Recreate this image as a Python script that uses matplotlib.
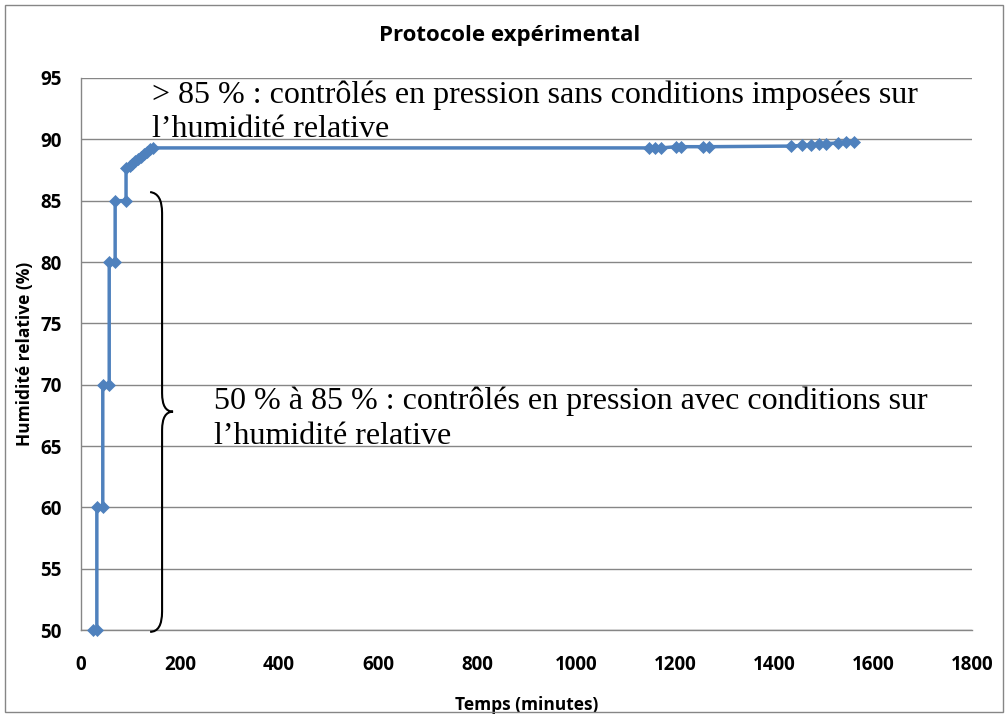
import matplotlib
matplotlib.use("Agg")
import matplotlib.pyplot as plt
from matplotlib.path import Path
from matplotlib.patches import PathPatch, Rectangle

# ---- data ----
temps = [24, 32, 32, 44, 44, 57, 57, 69, 69, 91, 91,
         98, 104, 110, 116, 122, 128, 134, 140, 146,
         1147, 1160, 1171, 1203, 1212, 1257, 1269,
         1434, 1456, 1474, 1491, 1505, 1530, 1545, 1561]
humidite = [50, 50, 60, 60, 70, 70, 80, 80, 85, 85, 87.7,
            87.8, 88.0, 88.2, 88.4, 88.6, 88.8, 89.0, 89.2, 89.3,
            89.3, 89.3, 89.3, 89.4, 89.4, 89.4, 89.4,
            89.45, 89.5, 89.55, 89.6, 89.65, 89.7, 89.75, 89.8]
xticks = [0, 200, 400, 600, 800, 1000, 1200, 1400, 1600, 1800]
yticks = [50, 55, 60, 65, 70, 75, 80, 85, 90, 95]

title = "Protocole expérimental"
xlabel = "Temps (minutes)"
ylabel = "Humidité relative (%)"
note_haut = ["> 85 % : contrôlés en pression sans conditions imposées sur",
             "l\u2019humidité relative"]
note_bas = ["50 % à 85 % : contrôlés en pression avec conditions sur",
            "l\u2019humidité relative"]

BLUE = "#4F81BD"
GRID = "#868686"
SANS = ["Open Sans", "DejaVu Sans"]
SERIF = ["Liberation Serif", "DejaVu Serif"]

fig = plt.figure(figsize=(10.06, 7.14), dpi=100)
ax = fig.add_axes([81 / 1006, 1 - 630 / 714, (972 - 81) / 1006, (630 - 78) / 714])

ax.plot(temps, humidite, color=BLUE, lw=2.5, marker="D", ms=6.5,
        mfc=BLUE, mec=BLUE, mew=0.5, clip_on=False, zorder=5)

ax.set_xlim(0, 1800)
ax.set_ylim(50, 95)
ax.set_xticks(xticks)
ax.set_yticks(yticks)
ax.set_xticklabels([str(v) for v in xticks], fontsize=13.5, fontweight="bold", family=SANS)
ax.set_yticklabels([str(v) for v in yticks], fontsize=13.5, fontweight="bold", family=SANS)
ax.tick_params(axis="x", length=0, pad=18)
ax.tick_params(axis="y", length=0, pad=14)
ax.yaxis.grid(True, color=GRID, lw=1.0)
ax.set_axisbelow(True)
for s in ["top", "right"]:
    ax.spines[s].set_visible(False)
ax.spines["left"].set_color(GRID)
ax.spines["bottom"].set_color(GRID)
ax.spines["left"].set_linewidth(1.0)
ax.spines["bottom"].set_linewidth(1.0)

ax.set_xlabel(xlabel, fontsize=12.5, fontweight="bold", family=SANS, labelpad=15)
ax.set_ylabel(ylabel, fontsize=12.5, fontweight="bold", family=SANS, labelpad=4)
fig.text(0.507, 1 - 35 / 714, title, ha="center", va="center",
         fontsize=16, fontweight="bold", family=SANS)

# annotations
FS = 23
ax.text(143.6, 92.95, note_haut[0], fontsize=FS, family=SERIF, va="baseline", ha="left")
ax.text(143.6, 90.18, note_haut[1], fontsize=FS, family=SERIF, va="baseline", ha="left")
ax.text(268, 68.0, note_bas[0], fontsize=FS, family=SERIF, va="baseline", ha="left")
ax.text(268, 65.16, note_bas[1], fontsize=FS, family=SERIF, va="baseline", ha="left")

# curly brace
verts = [(139.6, 85.7), (163.8, 85.6), (163.8, 84.0),
         (163.8, 69.3),
         (163.8, 67.8), (186.0, 67.8),
         (163.8, 67.8), (163.8, 66.3),
         (163.8, 51.5),
         (163.8, 49.85), (139.6, 49.85)]
codes = [Path.MOVETO, Path.CURVE3, Path.CURVE3,
         Path.LINETO,
         Path.CURVE3, Path.CURVE3,
         Path.CURVE3, Path.CURVE3,
         Path.LINETO,
         Path.CURVE3, Path.CURVE3]
ax.add_patch(PathPatch(Path(verts, codes), facecolor="none", edgecolor="black",
                       lw=1.5, clip_on=False, zorder=6))

# outer chart border
fig.patches.append(Rectangle((5 / 1006, 2 / 714), 998 / 1006, 707 / 714,
                             transform=fig.transFigure, fill=False,
                             edgecolor=GRID, lw=1.0))

fig.savefig("out.png", dpi=100)
